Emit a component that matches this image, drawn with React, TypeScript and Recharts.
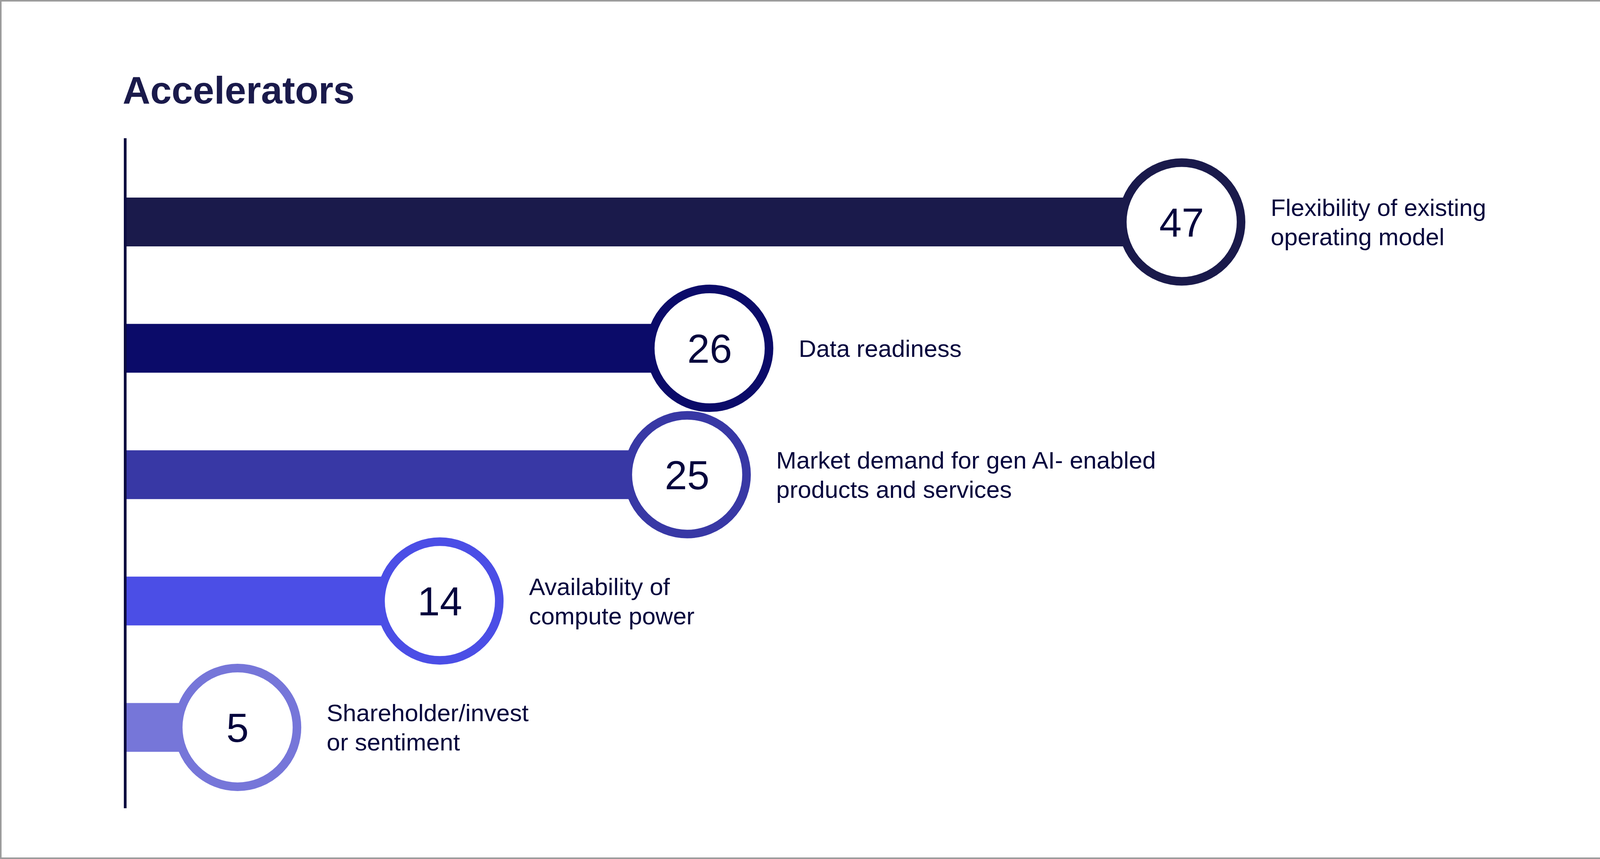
import React from 'react';
import { BarChart, Bar, XAxis, YAxis, Cell, LabelList, ReferenceLine } from 'recharts';

const categories = [
  'Flexibility of existing operating model',
  'Data readiness',
  'Market demand for gen AI- enabled products and services',
  'Availability of compute power',
  'Shareholder/investor sentiment',
];
const values = [47, 26, 25, 14, 5];
const labelLines = [
  ['Flexibility of existing', 'operating model'],
  ['Data readiness'],
  ['Market demand for gen AI- enabled', 'products and services'],
  ['Availability of', 'compute power'],
  ['Shareholder/invest', 'or sentiment'],
];
const colors = ['#1A1A4B', '#0B0B69', '#3838A5', '#4B4EE6', '#7676D9'];
const title = 'Accelerators';

const data = categories.map((name, i) => ({ name, value: values[i] }));

const W = 4167;
const H = 2200;
const FONT = '"Liberation Sans", Arial, sans-serif';
const TEXT = '#05053D';
const AXIS = '#0B0B40';

const renderMarker = (props: any) => {
  const { x, y, width, height, index } = props;
  const cx = Number(x) + Number(width);
  const cy = Number(y) + Number(height) / 2;
  const lines = labelLines[index] || [];
  const lh = 75;
  const firstBase = cy + 22 - ((lines.length - 1) * lh) / 2;
  return (
    <g key={`m-${index}`}>
      <circle cx={cx} cy={cy} r={152} fill="#ffffff" stroke={colors[index]} strokeWidth={22} />
      <text
        x={cx}
        y={cy + 37}
        textAnchor="middle"
        fontFamily={FONT}
        fontSize={103}
        fill={TEXT}
      >
        {values[index]}
      </text>
      <text x={cx + 228} y={firstBase} fontFamily={FONT} fontSize={62} fill={TEXT}>
        {lines.map((l, i) => (
          <tspan key={i} x={cx + 228} y={firstBase + i * lh}>
            {l}
          </tspan>
        ))}
      </text>
    </g>
  );
};

export default function App() {
  return (
    <div style={{ position: 'absolute', left: 0, top: 0, width: W, height: H, background: '#ffffff' }}>
      <BarChart
        width={W}
        height={H}
        data={data}
        layout="vertical"
        margin={{ top: 354, bottom: H - 2070, left: 318.5, right: 319 }}
      >
        <XAxis type="number" hide domain={[0, 61.3]} allowDataOverflow />
        <YAxis
          type="category"
          dataKey="name"
          width={2}
          tick={false}
          tickLine={false}
          axisLine={{ stroke: AXIS, strokeWidth: 7 }}
          padding={{ top: 53, bottom: 45 }}
        />
        <Bar dataKey="value" barSize={125} isAnimationActive={false}>
          {data.map((d, i) => (
            <Cell key={d.name} fill={colors[i]} />
          ))}
          <LabelList dataKey="value" content={renderMarker} />
        </Bar>
        <ReferenceLine x={0} stroke={AXIS} strokeWidth={7} />
      </BarChart>
      <svg
        width={W}
        height={320}
        style={{ position: 'absolute', left: 0, top: 0, pointerEvents: 'none' }}
      >
        <text x={314} y={265} fontFamily={FONT} fontWeight={700} fontSize={98} fill="#1A1A4B">
          {title}
        </text>
      </svg>
      <div
        style={{
          position: 'absolute',
          left: 0,
          top: 0,
          width: W,
          height: H,
          boxSizing: 'border-box',
          border: '4px solid #9C9C9C',
          pointerEvents: 'none',
        }}
      />
    </div>
  );
}
